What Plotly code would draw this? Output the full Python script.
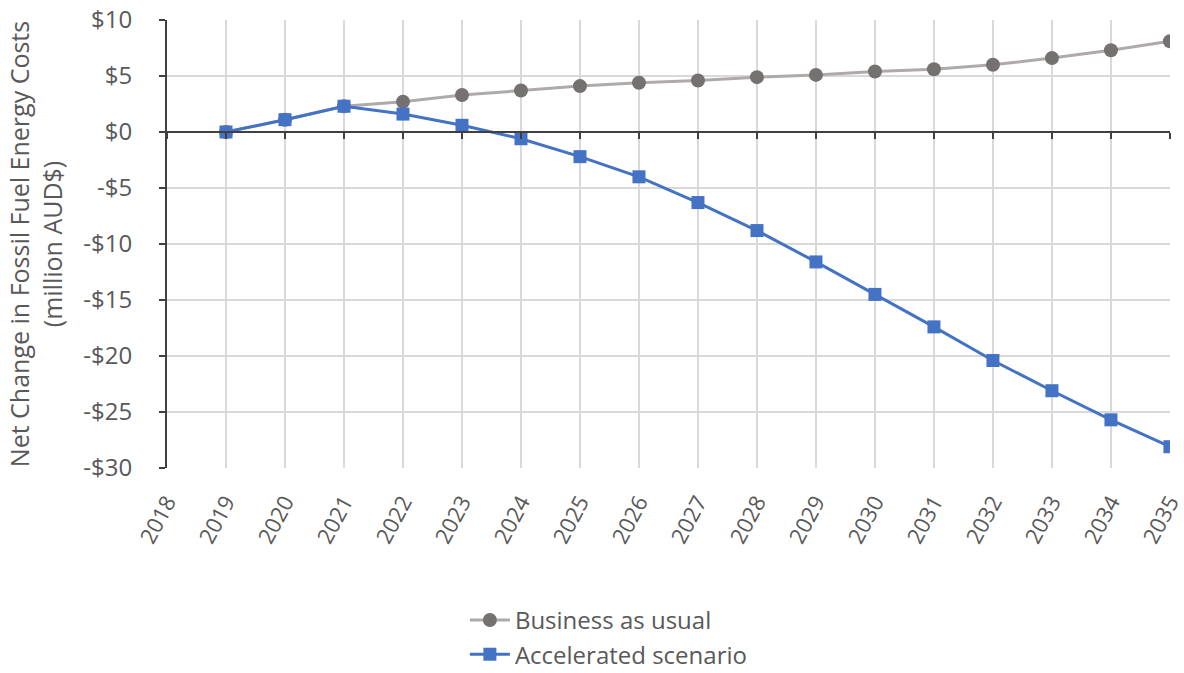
import plotly.graph_objects as go

years = list(range(2019, 2036))
bau = [0.0, 1.1, 2.3, 2.7, 3.3, 3.7, 4.1, 4.4, 4.6, 4.9, 5.1, 5.4, 5.6, 6.0, 6.6, 7.3, 8.1]
accel = [0.0, 1.1, 2.3, 1.6, 0.6, -0.6, -2.2, -4.0, -6.3, -8.8, -11.6, -14.5, -17.4, -20.4, -23.1, -25.7, -28.1]
ytick_vals = [10, 5, 0, -5, -10, -15, -20, -25, -30]
ytick_text = ["$10", "$5", "$0", "-$5", "-$10", "-$15", "-$20", "-$25", "-$30"]
xtick_vals = list(range(2018, 2036))

FONT = "Open Sans"
GRAY = "#595959"

fig = go.Figure()
fig.add_trace(go.Scatter(
    x=years, y=bau, name="Business as usual", mode="lines+markers",
    line=dict(color="#AEAAAA", width=3),
    marker=dict(symbol="circle", size=14, color="#767171"),
))
fig.add_trace(go.Scatter(
    x=years, y=accel, name="Accelerated scenario", mode="lines+markers",
    line=dict(color="#4472C4", width=3),
    marker=dict(symbol="square", size=13, color="#4472C4"),
))
# invisible trace to activate xaxis2 (zero-line axis with ticks)
fig.add_trace(go.Scatter(x=[2018], y=[0], xaxis="x2", mode="none",
                         showlegend=False, hoverinfo="skip"))

fig.update_layout(
    width=1184, height=673,
    margin=dict(l=167, r=14, t=20, b=205, autoexpand=False),
    plot_bgcolor="white", paper_bgcolor="white",
    font=dict(family=FONT, color=GRAY, size=18),
    xaxis=dict(
        range=[2018, 2035.001], tickmode="array", tickvals=xtick_vals,
        ticktext=[str(v) for v in xtick_vals], automargin=False,
        tickangle=-62, showgrid=True, gridcolor="#D9D9D9", gridwidth=2,
        showline=False, zeroline=False, ticks="", ticklabelstandoff=16,
        ticklabeloverflow="allow",
        tickfont=dict(size=22, color=GRAY),
    ),
    xaxis2=dict(
        range=[2018, 2035.001], overlaying="x", anchor="free", position=0.75,
        tickmode="array", tickvals=xtick_vals, showticklabels=False,
        showline=True, linecolor="#404040", linewidth=2, automargin=False,
        ticks="outside", ticklen=6, tickwidth=2, tickcolor="#404040",
        showgrid=False, zeroline=False,
    ),
    yaxis=dict(
        range=[-30, 10.001], tickmode="array", tickvals=ytick_vals, ticktext=ytick_text,
        showgrid=True, gridcolor="#D9D9D9", gridwidth=2, zeroline=False,
        showline=True, linecolor="#404040", linewidth=2, automargin=False,
        ticks="outside", ticklen=6, tickwidth=2, tickcolor="#404040",
        ticklabelstandoff=22, ticklabeloverflow="allow",
        tickfont=dict(size=24, color=GRAY),
        title=dict(text="Net Change in Fossil Fuel Energy Costs<br>(million AUD$)",
                   font=dict(size=25, color=GRAY), standoff=14),
    ),
    legend=dict(
        orientation="v",
        x=0.297, y=-0.29, xanchor="left", yanchor="top",
        font=dict(size=24, color=GRAY), bgcolor="rgba(0,0,0,0)",
        tracegroupgap=0, itemwidth=40,
    ),
    showlegend=True,
)

fig.write_html("out.html", config={"displayModeBar": False},
               post_script="document.body.style.margin='0';")
